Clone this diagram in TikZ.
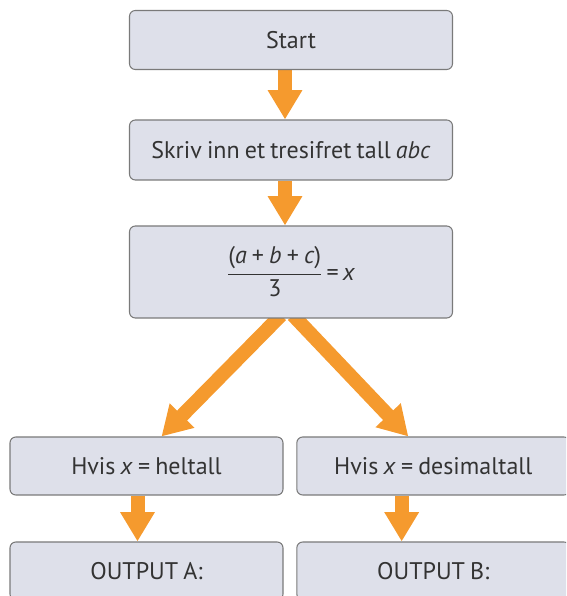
\documentclass[tikz,border=0pt]{standalone}
\usepackage{fontspec}
\setmainfont[WordSpace=0.8]{PT Sans}
\usetikzlibrary{arrows.meta,backgrounds}
\definecolor{boxfill}{HTML}{DEE0EA}
\definecolor{boxline}{HTML}{7A7A7A}
\definecolor{boxtext}{HTML}{333333}
\definecolor{flow}{HTML}{F59A2E}
\tikzset{
  box/.style={draw=boxline,fill=boxfill,rounded corners=5pt,line width=0.9pt,
    text=boxtext,font=\fontsize{20.5}{24}\selectfont,inner sep=0pt,
    minimum width=9.69cm,minimum height=1.77cm},
  smallbox/.style={box,minimum width=8.19cm,minimum height=1.74cm},
  flowarrow/.style={draw=flow,line width=0.42cm,
    -{Triangle[width=0.98cm,length=0.88cm]}}
}
\begin{document}
\begin{tikzpicture}
  \useasboundingbox (0,0) rectangle (16.98,17.88);
  \clip (0,0) rectangle (16.98,17.88);
	\node[box] (start) at (8.73,16.68) {Start};
	\node[box,minimum height=1.8cm] (input) at (8.73,13.38)
    {Skriv inn et tresifret tall \textit{abc}};
	\node[box,minimum height=2.76cm] (avg) at (8.73,9.72)
    {$\displaystyle\frac{\mbox{(\textit{a} + \textit{b} + \textit{c})}}{\mbox{3}}$\,=\,\textit{x}};
	\node[smallbox] (heltall) at (4.395,3.9) {Hvis \textit{x} = heltall};
	\node[smallbox] (desimal) at (13.0,3.9) {Hvis \textit{x} = desimaltall};
	\node[smallbox] (outa) at (4.395,0.75) {OUTPUT A:};
	\node[smallbox] (outb) at (13.0,0.75) {OUTPUT B:};
  \begin{scope}[on background layer]
  \draw[flowarrow] ([xshift=-0.18cm]start.south) -- ([xshift=-0.18cm]input.north);
  \draw[flowarrow] ([xshift=-0.18cm]input.south) -- ([xshift=-0.18cm]avg.north);
  \draw[flowarrow] ([xshift=-0.3cm,yshift=0.1cm]avg.south) -- ([xshift=0.45cm]heltall.north);
  \draw[flowarrow] ([xshift=0.06cm,yshift=0.1cm]avg.south) -- ([xshift=-0.75cm]desimal.north);
  \draw[flowarrow] ([xshift=-0.27cm]heltall.south) -- ([xshift=-0.27cm]outa.north);
  \draw[flowarrow] ([xshift=-0.95cm]desimal.south) -- ([xshift=-0.95cm]outb.north);
  \end{scope}
\end{tikzpicture}
\end{document}
